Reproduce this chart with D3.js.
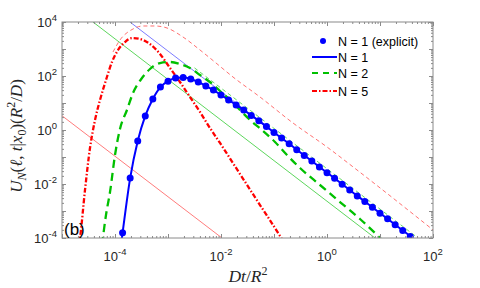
<!DOCTYPE html>
<html>
<head>
<meta charset="utf-8">
<script src="https://cdn.jsdelivr.net/npm/d3@7"></script>
<style>
body { margin: 0; background: #fff; }
svg { display: block; }
</style>
</head>
<body>
<svg id="chart" width="480" height="288"></svg>
<script>
// values, kept as log10(Dt/R^2) and log10(U_N R^2/D)

// N = 1, explicit points (dots)
var dotLogT = [-3.857, -3.714, -3.571, -3.429, -3.286, -3.143, -3.0, -2.857, -2.714, -2.571,
  -2.429, -2.286, -2.143, -2.0, -1.857, -1.714, -1.571, -1.429, -1.286, -1.143,
  -1.0, -0.857, -0.714, -0.571, -0.429, -0.286, -0.143, 0, 0.143, 0.286,
  0.429, 0.571, 0.714, 0.857, 1.0, 1.143, 1.286, 1.429, 1.571];
var dotLogU = [-3.81, -1.78, -0.41, 0.52, 1.15, 1.59, 1.81, 1.93, 1.94, 1.89,
  1.78, 1.63, 1.48, 1.30, 1.11, 0.93, 0.74, 0.54, 0.34, 0.13,
  -0.09, -0.30, -0.51, -0.73, -0.94, -1.15, -1.37, -1.58, -1.79, -2.01,
  -2.22, -2.44, -2.65, -2.86, -3.08, -3.29, -3.51, -3.72, -3.94];

// N = 1 line (same points, run a little past the axes)
var n1LogT = [-3.9].concat(dotLogT, [1.65]);
var n1LogU = [-4.45].concat(dotLogU, [-4.1]);

// N = 2
var n2LogT = [-4.245, -4.17, -4.094, -4.0, -3.906, -3.774, -3.66, -3.491, -3.34, -3.151,
  -2.962, -2.774, -2.585, -2.396, -2.208, -2.019, -1.83, -1.642, -1.453, -1.226,
  -0.981, -0.755, -0.509, -0.132, 0.245, 0.623, 0.962, 1.038];
var n2LogU = [-4.26, -3.148, -2.296, -0.926, 0.037, 0.741, 1.37, 1.926, 2.259, 2.481,
  2.519, 2.444, 2.296, 2.037, 1.778, 1.444, 1.111, 0.741, 0.37, 0.0,
  -0.444, -0.926, -1.407, -2.037, -2.667, -3.296, -3.926, -4.074];

// N = 5
var n5LogT = [-4.679, -4.66, -4.566, -4.472, -4.377, -4.283, -4.17, -4.057, -3.943, -3.811,
  -3.679, -3.528, -3.34, -3.151, -2.962, -2.774, -2.585, -2.396, -2.208, -2.019,
  -1.642, -1.264, -0.887, -0.83];
var n5LogU = [-4.26, -4.0, -2.222, -0.667, 0.37, 1.111, 1.852, 2.519, 2.963, 3.259,
  3.407, 3.37, 3.185, 2.815, 2.296, 1.778, 1.222, 0.667, 0.074, -0.481,
  -1.63, -2.778, -3.926, -4.11];

// thin red dashed curve
var redDashLogT = [-4.038, -3.906, -3.66, -3.472, -3.245, -3.019, -2.717, -2.396, -2.094, -1.774,
  -1.264, -0.642, 0, 0.566, 2.0];
var redDashLogU = [2.889, 3.333, 3.741, 3.852, 3.852, 3.778, 3.444, 2.963, 2.481, 1.963,
  1.222, 0.26, -0.63, -1.48, -3.70];

// thin straight guide lines (end points)
var blueThinLogT = [-3.717, 1.616], blueThinLogU = [4, -4];
var greenThinLogT = [-4.415, 0.906], greenThinLogU = [4, -4];
var greenDashLogT = [-2.5, 1.717], greenDashLogU = [2.3, -4];
var redThinLogT = [-5, -1.981], redThinLogU = [0.528, -4];

var xMajor = [-5, -4, -3, -2, -1, 0, 1, 2];
var xLabels = [-4, -2, 0, 2];
var yMajor = [-4, -3, -2, -1, 0, 1, 2, 3, 4];
var yLabels = [-4, -2, 0, 2, 4];

var legendNames = ["N = 1 (explicit)", "N = 1", "N = 2", "N = 5"];

var margin = {top: 22, right: 47, bottom: 50, left: 62},
    width = 480 - margin.left - margin.right,
    height = 288 - margin.top - margin.bottom;

var svg = d3.select("#chart");
var g = svg.append("g")
  .attr("transform", "translate(" + margin.left + "," + margin.top + ")");

var x = d3.scaleLog().domain([1e-5, 1e2]).range([0, width]);
var y = d3.scaleLog().domain([1e-4, 1e4]).range([height, 0]);

function pts(lt, lu) {
  return lt.map(function (t, i) { return [Math.pow(10, t), Math.pow(10, lu[i])]; });
}

var line = d3.line()
  .x(function (d) { return x(d[0]); })
  .y(function (d) { return y(d[1]); })
  .curve(d3.curveMonotoneX);

g.append("clipPath").attr("id", "clip")
  .append("rect").attr("width", width).attr("height", height);

var plot = g.append("g").attr("clip-path", "url(#clip)");

// thin guides
plot.append("path").datum(pts(redThinLogT, redThinLogU)).attr("d", line)
  .attr("fill", "none").attr("stroke", "#ff5a5a").attr("stroke-width", 0.8);
plot.append("path").datum(pts(greenThinLogT, greenThinLogU)).attr("d", line)
  .attr("fill", "none").attr("stroke", "#33cc33").attr("stroke-width", 0.8);
plot.append("path").datum(pts(blueThinLogT, blueThinLogU)).attr("d", line)
  .attr("fill", "none").attr("stroke", "#5a5aff").attr("stroke-width", 0.8);
plot.append("path").datum(pts(greenDashLogT, greenDashLogU)).attr("d", line)
  .attr("fill", "none").attr("stroke", "#55d655").attr("stroke-width", 0.9)
  .attr("stroke-dasharray", "4,3");
plot.append("path").datum(pts(redDashLogT, redDashLogU)).attr("d", line)
  .attr("fill", "none").attr("stroke", "#ff6060").attr("stroke-width", 0.9)
  .attr("stroke-dasharray", "4,3");

// main curves
plot.append("path").datum(pts(n5LogT, n5LogU)).attr("d", line)
  .attr("fill", "none").attr("stroke", "#ff0000").attr("stroke-width", 2.3)
  .attr("stroke-dasharray", "5,2,1.5,2");
plot.append("path").datum(pts(n2LogT, n2LogU)).attr("d", line)
  .attr("fill", "none").attr("stroke", "#00c000").attr("stroke-width", 2.3)
  .attr("stroke-dasharray", "8,5");
plot.append("path").datum(pts(n1LogT, n1LogU)).attr("d", line)
  .attr("fill", "none").attr("stroke", "#0000ff").attr("stroke-width", 2);
plot.selectAll("circle.dot")
  .data(pts(dotLogT, dotLogU))
  .enter().append("circle")
  .attr("class", "dot")
  .attr("cx", function (d) { return x(d[0]); })
  .attr("cy", function (d) { return y(d[1]); })
  .attr("r", 3.5)
  .attr("fill", "#0000ff");

// axes (ticks inside, mirrored on top/right)
var axisColor = "#8a8a8a";
var xMinor = [], yMinor = [];
xMajor.forEach(function (e) { for (var m = 2; m < 10; m++) if (e < 2) xMinor.push(m * Math.pow(10, e)); });
yMajor.forEach(function (e) { for (var m = 2; m < 10; m++) if (e < 4) yMinor.push(m * Math.pow(10, e)); });
var xMajV = xMajor.map(function (e) { return Math.pow(10, e); });
var yMajV = yMajor.map(function (e) { return Math.pow(10, e); });

function addAxis(gen, tr) {
  var a = g.append("g").attr("transform", tr).call(gen);
  a.select(".domain").remove();
  a.selectAll("line").attr("stroke", axisColor);
  return a;
}
addAxis(d3.axisBottom(x).tickValues(xMajV).tickSize(-4).tickFormat(""), "translate(0," + height + ")");
addAxis(d3.axisBottom(x).tickValues(xMinor).tickSize(-2).tickFormat(""), "translate(0," + height + ")");
addAxis(d3.axisTop(x).tickValues(xMajV).tickSize(-4).tickFormat(""), "translate(0,0)");
addAxis(d3.axisTop(x).tickValues(xMinor).tickSize(-2).tickFormat(""), "translate(0,0)");
addAxis(d3.axisLeft(y).tickValues(yMajV).tickSize(-4).tickFormat(""), "translate(0,0)");
addAxis(d3.axisLeft(y).tickValues(yMinor).tickSize(-2).tickFormat(""), "translate(0,0)");
addAxis(d3.axisRight(y).tickValues(yMajV).tickSize(-4).tickFormat(""), "translate(" + width + ",0)");
addAxis(d3.axisRight(y).tickValues(yMinor).tickSize(-2).tickFormat(""), "translate(" + width + ",0)");

g.append("rect").attr("width", width).attr("height", height)
  .attr("fill", "none").attr("stroke", axisColor).attr("stroke-width", 1);

// tick labels, "10" with superscript exponent
var tickFont = "'Liberation Sans', Arial, sans-serif";
xLabels.forEach(function (e) {
  var t = g.append("text")
    .attr("x", x(Math.pow(10, e))).attr("y", height + 23)
    .attr("text-anchor", "middle")
    .attr("font-family", tickFont).attr("font-size", 13).attr("fill", "#262626");
  t.append("tspan").text("10");
  t.append("tspan").attr("dy", -6).attr("font-size", 9.5).text(e);
});
yLabels.forEach(function (e) {
  var t = g.append("text")
    .attr("x", -5).attr("y", y(Math.pow(10, e)) + 5)
    .attr("text-anchor", "end")
    .attr("font-family", tickFont).attr("font-size", 13).attr("fill", "#262626");
  t.append("tspan").text("10");
  t.append("tspan").attr("dy", -6).attr("font-size", 9.5).text(e);
});

// axis titles
var mathFont = "'Liberation Serif', 'Times New Roman', serif";
var xt = svg.append("text")
  .attr("x", 248).attr("y", 282)
  .attr("text-anchor", "middle")
  .attr("font-family", mathFont).attr("font-size", 17.5).attr("fill", "#262626");
xt.append("tspan").attr("font-style", "italic").text("Dt");
xt.append("tspan").text("/");
xt.append("tspan").attr("font-style", "italic").text("R");
xt.append("tspan").attr("dy", -7).attr("font-size", 12).text("2");

var yt = svg.append("text")
  .attr("transform", "translate(22,136) rotate(-90)")
  .attr("text-anchor", "middle")
  .attr("font-family", mathFont).attr("font-size", 17).attr("fill", "#262626");
yt.append("tspan").attr("font-style", "italic").text("U");
yt.append("tspan").attr("font-style", "italic").attr("dy", 4).attr("font-size", 12).text("N");
yt.append("tspan").attr("dy", -4).text("(");
yt.append("tspan").attr("font-style", "italic").text("\u2113");
yt.append("tspan").text(", ");
yt.append("tspan").attr("font-style", "italic").text("t");
yt.append("tspan").text("|");
yt.append("tspan").attr("font-style", "italic").text("x");
yt.append("tspan").attr("dy", 4).attr("font-size", 12).text("0");
yt.append("tspan").attr("dy", -4).text(")(");
yt.append("tspan").attr("font-style", "italic").text("R");
yt.append("tspan").attr("dy", -7).attr("font-size", 12).text("2");
yt.append("tspan").attr("dy", 7).text("/");
yt.append("tspan").attr("font-style", "italic").text("D");
yt.append("tspan").text(")");

// panel tag
svg.append("text").attr("x", 64).attr("y", 235)
  .attr("font-family", tickFont).attr("font-size", 17).attr("fill", "#000")
  .text("(b)");

// legend
var leg = svg.append("g").attr("font-family", tickFont).attr("font-size", 12.5).attr("fill", "#000");
var legY = [41, 57, 73, 91];
leg.append("circle").attr("cx", 323).attr("cy", legY[0]).attr("r", 3).attr("fill", "#0000ff");
leg.append("line").attr("x1", 312).attr("x2", 337).attr("y1", legY[1]).attr("y2", legY[1])
  .attr("stroke", "#0000ff").attr("stroke-width", 2);
leg.append("line").attr("x1", 312).attr("x2", 337).attr("y1", legY[2]).attr("y2", legY[2])
  .attr("stroke", "#00c000").attr("stroke-width", 2).attr("stroke-dasharray", "6,5");
leg.append("line").attr("x1", 312).attr("x2", 337).attr("y1", legY[3]).attr("y2", legY[3])
  .attr("stroke", "#ff0000").attr("stroke-width", 2).attr("stroke-dasharray", "5,2,1.5,2");
legendNames.forEach(function (name, i) {
  leg.append("text").attr("x", 338).attr("y", legY[i] + 4.5).text(name);
});
</script>
</body>
</html>
